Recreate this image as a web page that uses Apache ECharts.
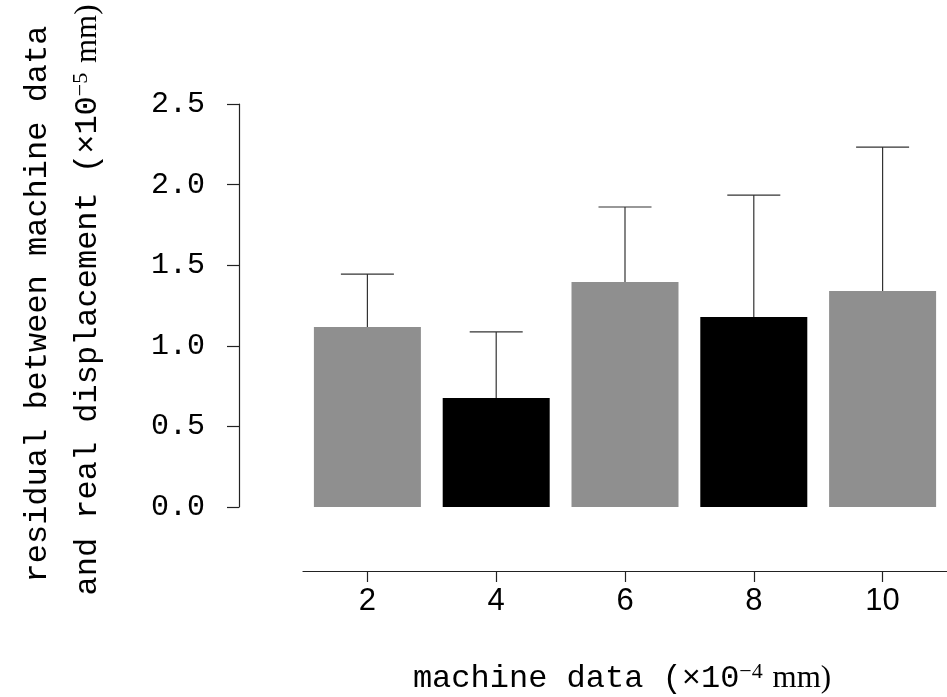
<!DOCTYPE html>
<html>
<head>
<meta charset="utf-8">
<script src="https://cdn.jsdelivr.net/npm/echarts@6/dist/echarts.min.js"></script>
<style>html,body{margin:0;padding:0;background:#fff;}#c{width:947px;height:697px;}</style>
</head>
<body>
<div id="c"></div>
<script>
const categories = ['2', '4', '6', '8', '10'];
const means = [1.117, 0.676, 1.396, 1.179, 1.340];
const upper = [1.445, 1.086, 1.861, 1.935, 2.233];
const barColors = ['#8f8f8f', '#000000', '#8f8f8f', '#000000', '#8f8f8f'];
const yTicks = [0, 0.5, 1.0, 1.5, 2.0, 2.5];

const mono = 'Liberation Mono';
const serif = 'Liberation Serif';
const sans = 'Liberation Sans';

const chart = echarts.init(document.getElementById('c'), null, {renderer: 'canvas'});
const supStyle = {fontFamily: serif, fontSize: 22, fill: '#000', verticalAlign: 'top', padding: [0, 2, 14, 0]};
const option = {
  backgroundColor: '#ffffff',
  animation: false,
  grid: {left: 303, right: -6, top: 104, bottom: 190, containLabel: false},
  xAxis: {
    type: 'category',
    data: categories,
    offset: 64,
    boundaryGap: true,
    axisLine: {show: true, onZero: false, lineStyle: {color: '#222', width: 1.2}},
    axisTick: {show: true, inside: false, alignWithLabel: true, interval: 0, length: 11, lineStyle: {color: '#222', width: 1.2}},
    axisLabel: {fontFamily: sans, fontSize: 31, color: '#000', margin: 15, interval: 0},
    splitLine: {show: false}
  },
  yAxis: {
    type: 'value',
    min: 0, max: 2.5, interval: 0.5,
    offset: 64,
    axisLine: {show: true, onZero: false, lineStyle: {color: '#222', width: 1.2}},
    axisTick: {show: true, length: 12, lineStyle: {color: '#222', width: 1.2}},
    axisLabel: {fontFamily: mono, fontSize: 30, color: '#000', margin: 34,
      formatter: v => yTicks.indexOf(v) >= 0 ? v.toFixed(1) : ''},
    splitLine: {show: false}
  },
  series: [
    {
      type: 'bar',
      barWidth: 107,
      data: means.map((v, i) => ({value: v, itemStyle: {color: barColors[i]}}))
    },
    {
      type: 'custom',
      clip: false,
      z: 1,
      data: means.map((v, i) => [i, v, upper[i]]),
      renderItem: function (params, api) {
        const lo = api.coord([api.value(0), api.value(1)]);
        const hi = api.coord([api.value(0), api.value(2)]);
        const half = 26.5;
        return {
          type: 'group',
          children: [
            {type: 'line', shape: {x1: lo[0], y1: lo[1], x2: hi[0], y2: hi[1]},
             style: {stroke: '#333', lineWidth: 1.2}},
            {type: 'line', shape: {x1: hi[0] - half, y1: hi[1], x2: hi[0] + half, y2: hi[1]},
             style: {stroke: '#333', lineWidth: 1.2}}
          ]
        };
      }
    }
  ],
  graphic: [
    {
      type: 'text',
      x: 622, y: 679,
      style: {
        text: '{m|machine data (×10}{sup|−4}{s| mm)}',
        align: 'center', verticalAlign: 'middle',
        rich: {
          m: {fontFamily: mono, fontSize: 32, fill: '#000'},
          sup: supStyle,
          s: {fontFamily: serif, fontSize: 31, fill: '#000'}
        }
      }
    },
    {
      type: 'text',
      x: 38, y: 304,
      rotation: Math.PI / 2,
      style: {
        text: 'residual between machine data',
        fontFamily: mono, fontSize: 32, fill: '#000',
        align: 'center', verticalAlign: 'middle'
      }
    },
    {
      type: 'text',
      x: 88, y: 300,
      rotation: Math.PI / 2,
      style: {
        text: '{m|and real displacement (×10}{sup|−5}{s| mm)}',
        align: 'center', verticalAlign: 'middle',
        rich: {
          m: {fontFamily: mono, fontSize: 32, fill: '#000'},
          sup: supStyle,
          s: {fontFamily: serif, fontSize: 31, fill: '#000'}
        }
      }
    }
  ]
};
chart.setOption(option);
</script>
</body>
</html>
